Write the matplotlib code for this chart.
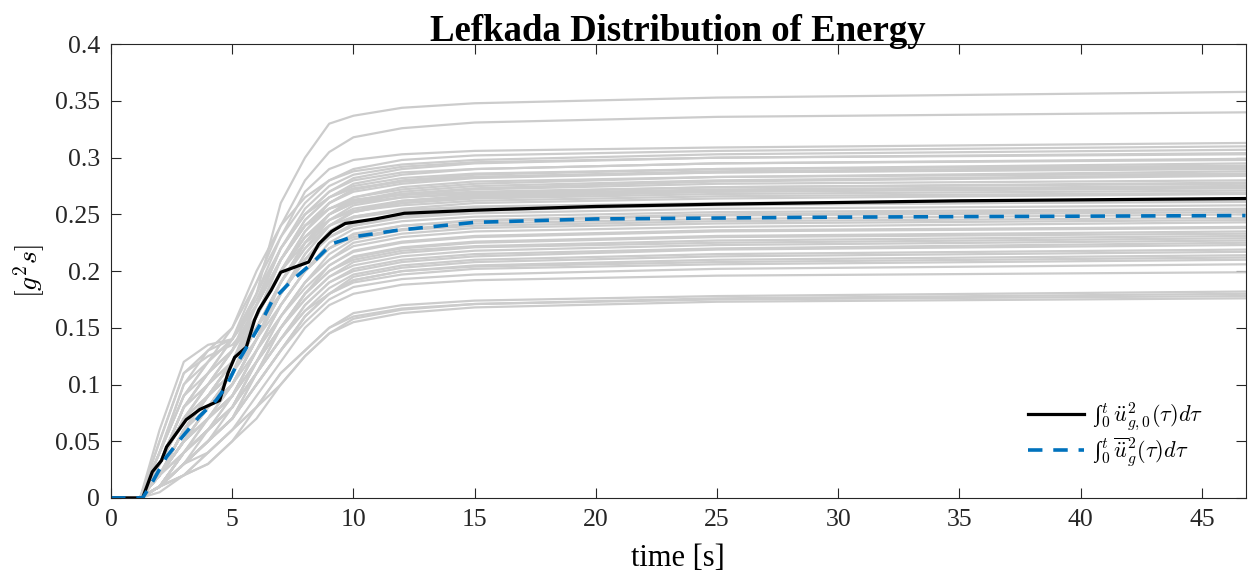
import numpy as np
import matplotlib
matplotlib.use('Agg')
import matplotlib.pyplot as plt

plt.rcParams['font.family'] = ['Liberation Serif', 'DejaVu Serif']
plt.rcParams['mathtext.fontset'] = 'cm'

# sample times [s] shared by the gray record curves
t_grid = [0, 1.2, 2, 3, 4, 5, 6, 7, 8, 9, 10, 12, 15, 25, 46.8]

# cumulative energy of individual records [g^2 s]
records = [
    [0, 0, 0.04, 0.09, 0.12, 0.14, 0.18, 0.26, 0.30, 0.33, 0.337, 0.344, 0.348, 0.353, 0.358],
    [0, 0, 0.03, 0.08, 0.11, 0.14, 0.19, 0.24, 0.28, 0.305, 0.318, 0.326, 0.331, 0.336, 0.340],
    [0, 0, 0.05, 0.11, 0.13, 0.15, 0.19, 0.23, 0.27, 0.29, 0.298, 0.303, 0.306, 0.309, 0.313],
    [0, 0, 0.03, 0.07, 0.10, 0.13, 0.18, 0.23, 0.26, 0.28, 0.29, 0.298, 0.302, 0.306, 0.310],
    [0, 0, 0.04, 0.09, 0.12, 0.15, 0.20, 0.24, 0.265, 0.28, 0.288, 0.294, 0.298, 0.303, 0.307],
    [0, 0, 0.02, 0.06, 0.09, 0.12, 0.17, 0.22, 0.25, 0.27, 0.282, 0.29, 0.295, 0.300, 0.304],
    [0, 0, 0.03, 0.08, 0.11, 0.14, 0.18, 0.22, 0.25, 0.27, 0.28, 0.287, 0.29, 0.295, 0.299],
    [0, 0, 0.02, 0.05, 0.08, 0.11, 0.16, 0.21, 0.24, 0.26, 0.272, 0.28, 0.285, 0.290, 0.295],
    [0, 0, 0.04, 0.10, 0.12, 0.14, 0.17, 0.21, 0.24, 0.26, 0.27, 0.277, 0.282, 0.287, 0.291],
    [0, 0, 0.02, 0.06, 0.09, 0.12, 0.16, 0.20, 0.235, 0.255, 0.265, 0.272, 0.277, 0.283, 0.288],
    [0, 0, 0.03, 0.07, 0.10, 0.13, 0.17, 0.21, 0.24, 0.255, 0.263, 0.268, 0.272, 0.277, 0.280],
    [0, 0, 0.02, 0.05, 0.08, 0.11, 0.15, 0.19, 0.22, 0.245, 0.258, 0.265, 0.269, 0.274, 0.278],
    [0, 0, 0.03, 0.08, 0.10, 0.12, 0.16, 0.20, 0.23, 0.25, 0.26, 0.265, 0.268, 0.272, 0.275],
    [0, 0, 0.02, 0.06, 0.09, 0.11, 0.15, 0.19, 0.22, 0.24, 0.252, 0.26, 0.264, 0.268, 0.271],
    [0, 0, 0.03, 0.07, 0.09, 0.11, 0.15, 0.18, 0.21, 0.235, 0.248, 0.255, 0.26, 0.264, 0.268],
    [0, 0, 0.02, 0.05, 0.07, 0.10, 0.14, 0.18, 0.21, 0.235, 0.247, 0.253, 0.256, 0.259, 0.261],
    [0, 0, 0.03, 0.07, 0.09, 0.11, 0.15, 0.18, 0.21, 0.23, 0.24, 0.247, 0.251, 0.255, 0.258],
    [0, 0, 0.02, 0.05, 0.08, 0.10, 0.14, 0.17, 0.20, 0.225, 0.237, 0.244, 0.248, 0.252, 0.255],
    [0, 0, 0.01, 0.04, 0.06, 0.09, 0.13, 0.17, 0.20, 0.22, 0.233, 0.24, 0.244, 0.249, 0.252],
    [0, 0, 0.02, 0.06, 0.08, 0.10, 0.13, 0.16, 0.19, 0.215, 0.228, 0.236, 0.24, 0.244, 0.247],
    [0, 0, 0.02, 0.05, 0.07, 0.09, 0.13, 0.16, 0.19, 0.21, 0.222, 0.23, 0.235, 0.239, 0.243],
    [0, 0, 0.01, 0.04, 0.06, 0.08, 0.12, 0.16, 0.185, 0.205, 0.218, 0.226, 0.231, 0.236, 0.239],
    [0, 0, 0.02, 0.05, 0.07, 0.09, 0.12, 0.15, 0.18, 0.20, 0.213, 0.221, 0.226, 0.231, 0.235],
    [0, 0, 0.01, 0.03, 0.05, 0.08, 0.11, 0.15, 0.18, 0.20, 0.21, 0.218, 0.222, 0.227, 0.231],
    [0, 0, 0.02, 0.05, 0.07, 0.09, 0.12, 0.15, 0.175, 0.195, 0.205, 0.213, 0.218, 0.223, 0.227],
    [0, 0, 0.01, 0.04, 0.06, 0.08, 0.11, 0.14, 0.17, 0.19, 0.20, 0.208, 0.213, 0.219, 0.223],
    [0, 0, 0.01, 0.03, 0.05, 0.07, 0.11, 0.14, 0.165, 0.185, 0.197, 0.205, 0.21, 0.215, 0.219],
    [0, 0, 0.02, 0.04, 0.06, 0.08, 0.11, 0.14, 0.165, 0.18, 0.192, 0.20, 0.205, 0.21, 0.214],
    [0, 0, 0.01, 0.03, 0.05, 0.07, 0.10, 0.13, 0.16, 0.18, 0.19, 0.197, 0.202, 0.206, 0.210],
    [0, 0, 0.01, 0.03, 0.05, 0.07, 0.10, 0.13, 0.155, 0.175, 0.186, 0.193, 0.197, 0.202, 0.206],
    [0, 0, 0.01, 0.02, 0.04, 0.06, 0.09, 0.12, 0.15, 0.17, 0.18, 0.188, 0.192, 0.196, 0.199],
    [0, 0, 0.01, 0.02, 0.04, 0.06, 0.08, 0.11, 0.13, 0.15, 0.163, 0.17, 0.174, 0.178, 0.182],
    [0, 0, 0.01, 0.02, 0.03, 0.05, 0.08, 0.10, 0.125, 0.145, 0.158, 0.166, 0.171, 0.175, 0.178],
    [0, 0, 0.01, 0.03, 0.04, 0.06, 0.08, 0.11, 0.13, 0.15, 0.16, 0.167, 0.171, 0.176, 0.180],
    [0, 0, 0.005, 0.02, 0.03, 0.05, 0.07, 0.10, 0.125, 0.145, 0.155, 0.163, 0.168, 0.173, 0.176],
    [0, 0, 0.03, 0.08, 0.11, 0.13, 0.17, 0.22, 0.255, 0.275, 0.285, 0.292, 0.296, 0.300, 0.303],
    [0, 0, 0.02, 0.06, 0.09, 0.12, 0.16, 0.21, 0.245, 0.265, 0.275, 0.282, 0.286, 0.290, 0.293],
    [0, 0, 0.02, 0.06, 0.09, 0.12, 0.16, 0.20, 0.23, 0.25, 0.26, 0.268, 0.273, 0.279, 0.284],
    [0, 0, 0.01, 0.04, 0.07, 0.10, 0.14, 0.18, 0.21, 0.23, 0.24, 0.248, 0.253, 0.259, 0.264],
    [0, 0, 0.02, 0.05, 0.07, 0.09, 0.13, 0.17, 0.20, 0.22, 0.23, 0.237, 0.242, 0.246, 0.250],
    [0, 0, 0.01, 0.04, 0.06, 0.08, 0.12, 0.15, 0.18, 0.20, 0.212, 0.22, 0.225, 0.23, 0.233],
    [0, 0, 0.06, 0.12, 0.135, 0.14, 0.17, 0.21, 0.24, 0.255, 0.262, 0.267, 0.27, 0.274, 0.277],
    [0, 0, 0.05, 0.11, 0.125, 0.135, 0.16, 0.20, 0.23, 0.245, 0.253, 0.258, 0.262, 0.266, 0.269],
    [0, 0, 0.04, 0.10, 0.13, 0.14, 0.175, 0.22, 0.25, 0.265, 0.273, 0.279, 0.283, 0.288, 0.292],
    [0, 0, 0.03, 0.08, 0.10, 0.12, 0.15, 0.19, 0.225, 0.245, 0.255, 0.262, 0.266, 0.27, 0.273],
    [0, 0, 0.03, 0.07, 0.10, 0.13, 0.17, 0.21, 0.245, 0.265, 0.277, 0.285, 0.29, 0.295, 0.298],
    [0, 0, 0.02, 0.06, 0.09, 0.12, 0.16, 0.20, 0.235, 0.26, 0.272, 0.279, 0.283, 0.287, 0.290],
    [0, 0, 0.02, 0.05, 0.08, 0.11, 0.15, 0.19, 0.225, 0.25, 0.262, 0.27, 0.275, 0.28, 0.285],
    [0, 0, 0.01, 0.04, 0.07, 0.10, 0.14, 0.18, 0.215, 0.24, 0.252, 0.26, 0.265, 0.27, 0.275],
    [0, 0, 0.02, 0.05, 0.08, 0.10, 0.14, 0.18, 0.21, 0.23, 0.242, 0.25, 0.254, 0.258, 0.262],
    [0, 0, 0.02, 0.05, 0.07, 0.09, 0.13, 0.17, 0.20, 0.22, 0.232, 0.24, 0.245, 0.25, 0.254],
    [0, 0, 0.01, 0.04, 0.06, 0.09, 0.12, 0.16, 0.19, 0.21, 0.225, 0.233, 0.238, 0.242, 0.245],
    [0, 0, 0.01, 0.03, 0.06, 0.08, 0.12, 0.15, 0.18, 0.205, 0.217, 0.225, 0.23, 0.235, 0.238],
    [0, 0, 0.02, 0.04, 0.06, 0.08, 0.11, 0.15, 0.175, 0.195, 0.208, 0.216, 0.221, 0.225, 0.229],
    [0, 0, 0.01, 0.03, 0.05, 0.07, 0.11, 0.14, 0.17, 0.19, 0.202, 0.21, 0.215, 0.22, 0.225],
    [0, 0, 0.01, 0.03, 0.05, 0.07, 0.10, 0.13, 0.16, 0.18, 0.195, 0.203, 0.208, 0.213, 0.217],
    [0, 0, 0.01, 0.03, 0.05, 0.07, 0.10, 0.13, 0.16, 0.18, 0.192, 0.20, 0.204, 0.208, 0.212],
    [0, 0, 0.03, 0.07, 0.09, 0.11, 0.14, 0.18, 0.215, 0.24, 0.253, 0.262, 0.267, 0.271, 0.274],
    [0, 0, 0.02, 0.06, 0.08, 0.10, 0.14, 0.19, 0.225, 0.25, 0.265, 0.274, 0.279, 0.283, 0.286],
    [0, 0, 0.04, 0.09, 0.11, 0.13, 0.16, 0.20, 0.225, 0.24, 0.248, 0.254, 0.257, 0.26, 0.263],
]

# target record (black)
t_target = [0, 1.3, 1.7, 2.08, 2.29, 2.56, 3.1, 3.66, 4.48, 4.82, 5.1, 5.58, 5.92, 6.1,
            6.6, 7.0, 8.15, 8.57, 9.1, 9.66, 10.9, 12.1, 15, 20, 25, 35, 46.8]
e_target = [0, 0, 0.023, 0.033, 0.045, 0.053, 0.069, 0.078, 0.086, 0.11, 0.124, 0.133,
            0.157, 0.166, 0.183, 0.199, 0.208, 0.224, 0.235, 0.242, 0.246, 0.251, 0.2537,
            0.257, 0.259, 0.262, 0.264]

# mean of the suite (blue dashed)
t_mean = [0, 1.3, 1.6, 2.28, 2.83, 3.65, 4.33, 4.74, 5.29, 6.1, 6.65, 7.47, 8.3, 9.1,
          9.93, 11.8, 15, 20, 30, 46.8]
e_mean = [0, 0, 0.01, 0.036, 0.051, 0.072, 0.086, 0.098, 0.122, 0.151, 0.174, 0.192,
          0.207, 0.224, 0.230, 0.236, 0.243, 0.246, 0.2476, 0.249]

fig = plt.figure(figsize=(12.48, 5.75), dpi=100)
ax = fig.add_axes([0.089, 0.134, 0.909, 0.789])

for rec in records:
    ax.plot(t_grid, rec, color='#cccccc', lw=1.6)

ax.plot(t_target, e_target, color='black', lw=2.3,
        label='\u222b' + r'${}_0^t\, \ddot{u}_{g,0}^2(\tau)d\tau$')
ax.plot(t_mean, e_mean, color='#0072BD', lw=2.6, ls=(0, (4, 3)),
        label='\u222b' + r'${}_0^t\, \overline{\ddot{u}}_g^2(\tau)d\tau$')

ax.set_xlim(0, 46.8)
ax.set_ylim(0, 0.4)
ax.set_xticks(np.arange(0, 46, 5))
ax.set_yticks(np.arange(0, 0.41, 0.05))
ax.set_yticklabels(['0', '0.05', '0.1', '0.15', '0.2', '0.25', '0.3', '0.35', '0.4'])
ax.tick_params(direction='in', length=7, width=0.8, top=True, right=True,
               labelsize=18.5, colors='#262626', pad=8)
for s in ax.spines.values():
    s.set_color('#262626')
    s.set_linewidth(0.8)

ax.set_title('Lefkada Distribution of Energy', fontsize=26.5, fontweight='bold', pad=2)
ax.set_xlabel('time [s]', fontsize=22, labelpad=9)
ax.set_ylabel(r'$[g^2 s]$', fontsize=20, labelpad=6)

ax.legend(loc='lower right', bbox_to_anchor=(0.98, 0.02), frameon=False, fontsize=16,
          handlelength=2.5, handletextpad=0.4, labelspacing=0.1)

fig.savefig('out.png', dpi=100)
